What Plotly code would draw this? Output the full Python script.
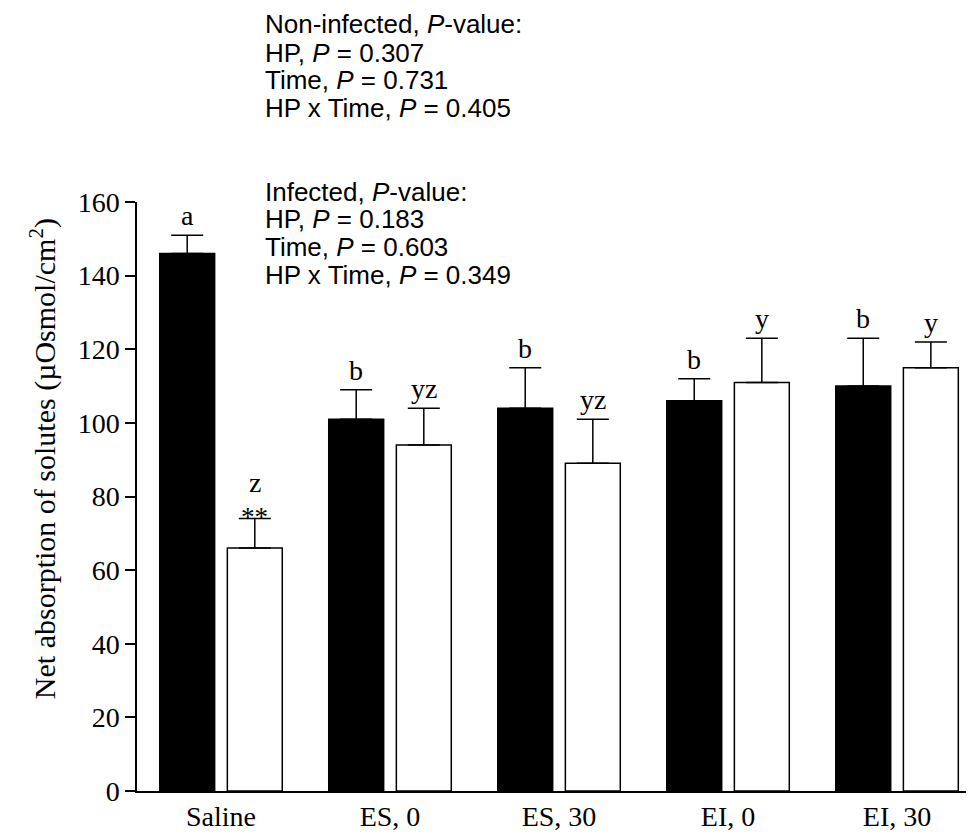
import plotly.graph_objects as go

categories = ["Saline", "ES, 0", "ES, 30", "EI, 0", "EI, 30"]
noninfected = [146, 101, 104, 106, 110]
noninfected_err = [5, 8, 11, 6, 13]
infected = [66, 94, 89, 111, 115]
infected_err = [8, 10, 12, 12, 7]
letters_noninf = ["a", "b", "b", "b", "b"]
letters_inf = ["z", "yz", "yz", "y", "y"]
stars_inf = ["**", "", "", "", ""]
yticks = [0, 20, 40, 60, 80, 100, 120, 140, 160]

noninf_text = ["Non-infected, <i>P</i>-value:", "HP, <i>P</i> = 0.307",
               "Time, <i>P</i> = 0.731", "HP x Time, <i>P</i> = 0.405"]
inf_text = ["Infected, <i>P</i>-value:", "HP, <i>P</i> = 0.183",
            "Time, <i>P</i> = 0.603", "HP x Time, <i>P</i> = 0.349"]
y_title = "Net absorption of solutes (µOsmol/cm<sup>2</sup>)"

W, H = 971, 837
ML, MR, MT, MB = 137, 5, 202, 44
plot_h = H - MT - MB
plot_w = W - ML - MR

idx = list(range(len(categories)))
off = 0.2
bw = 0.325
xb = [i - off for i in idx]
xw = [i + off for i in idx]

serif = "Liberation Serif, Times New Roman, serif"
sans = "Liberation Sans, Arial, sans-serif"

fig = go.Figure()
fig.add_trace(go.Bar(
    x=xb, y=noninfected, width=bw,
    marker=dict(color="black", line=dict(color="black", width=1.5)),
    error_y=dict(type="data", array=noninfected_err, arrayminus=[0] * 5,
                 symmetric=False, color="black", thickness=1.5, width=16),
    showlegend=False,
))
fig.add_trace(go.Bar(
    x=xw, y=infected, width=bw,
    marker=dict(color="white", line=dict(color="black", width=1.5)),
    error_y=dict(type="data", array=infected_err, arrayminus=[0] * 5,
                 symmetric=False, color="black", thickness=1.5, width=16),
    showlegend=False,
))

ann = []
for i in idx:
    ann.append(dict(x=xb[i], y=noninfected[i] + noninfected_err[i], xref="x", yref="y",
                    text=letters_noninf[i], showarrow=False, yanchor="bottom", yshift=2,
                    font=dict(family=serif, size=28, color="black")))
    if stars_inf[i]:
        ann.append(dict(x=xw[i], y=infected[i] + infected_err[i], xref="x", yref="y",
                        text=stars_inf[i], showarrow=False, yanchor="middle", yshift=2,
                        font=dict(family=serif, size=27, color="black")))
        ann.append(dict(x=xw[i], y=infected[i] + infected_err[i], xref="x", yref="y",
                        text=letters_inf[i], showarrow=False, yanchor="bottom", yshift=19,
                        font=dict(family=serif, size=28, color="black")))
    else:
        ann.append(dict(x=xw[i], y=infected[i] + infected_err[i], xref="x", yref="y",
                        text=letters_inf[i], showarrow=False, yanchor="bottom", yshift=2,
                        font=dict(family=serif, size=28, color="black")))

text_x = (263 - ML) / plot_w
for t1, py in zip(noninf_text, [23, 52, 80, 108]):
    ann.append(dict(x=text_x, y=(H - MB - py) / plot_h, xref="paper", yref="paper",
                    text=t1, showarrow=False, xanchor="left", yanchor="middle",
                    font=dict(family=sans, size=26, color="black")))
for t1, py in zip(inf_text, [192, 219, 247, 275]):
    ann.append(dict(x=text_x, y=(H - MB - py) / plot_h, xref="paper", yref="paper",
                    text=t1, showarrow=False, xanchor="left", yanchor="middle",
                    font=dict(family=sans, size=26, color="black")))

# y-axis title
ann.append(dict(x=(43 - ML) / plot_w, y=(H - MB - 460) / plot_h, xref="paper", yref="paper",
                text=y_title, textangle=-90, showarrow=False,
                xanchor="center", yanchor="middle",
                font=dict(family=serif, size=30, color="black")))

fig.update_layout(
    width=W, height=H,
    margin=dict(l=ML, r=MR, t=MT, b=MB, pad=0),
    plot_bgcolor="white", paper_bgcolor="white",
    barmode="overlay",
    annotations=ann,
    xaxis=dict(range=[-0.497, 4.408], tickvals=idx, ticktext=categories,
               showline=True, linecolor="black", linewidth=1.5, ticks="",
               showgrid=False, zeroline=False,
               tickfont=dict(family=serif, size=28, color="black")),
    yaxis=dict(range=[0, 160], tickvals=yticks, showline=True, linecolor="black",
               linewidth=1.5, ticks="outside", ticklen=10, tickwidth=1.5,
               tickcolor="black", showgrid=False, zeroline=False,
               tickfont=dict(family=serif, size=28, color="black")),
)

fig.write_html("out.html")
